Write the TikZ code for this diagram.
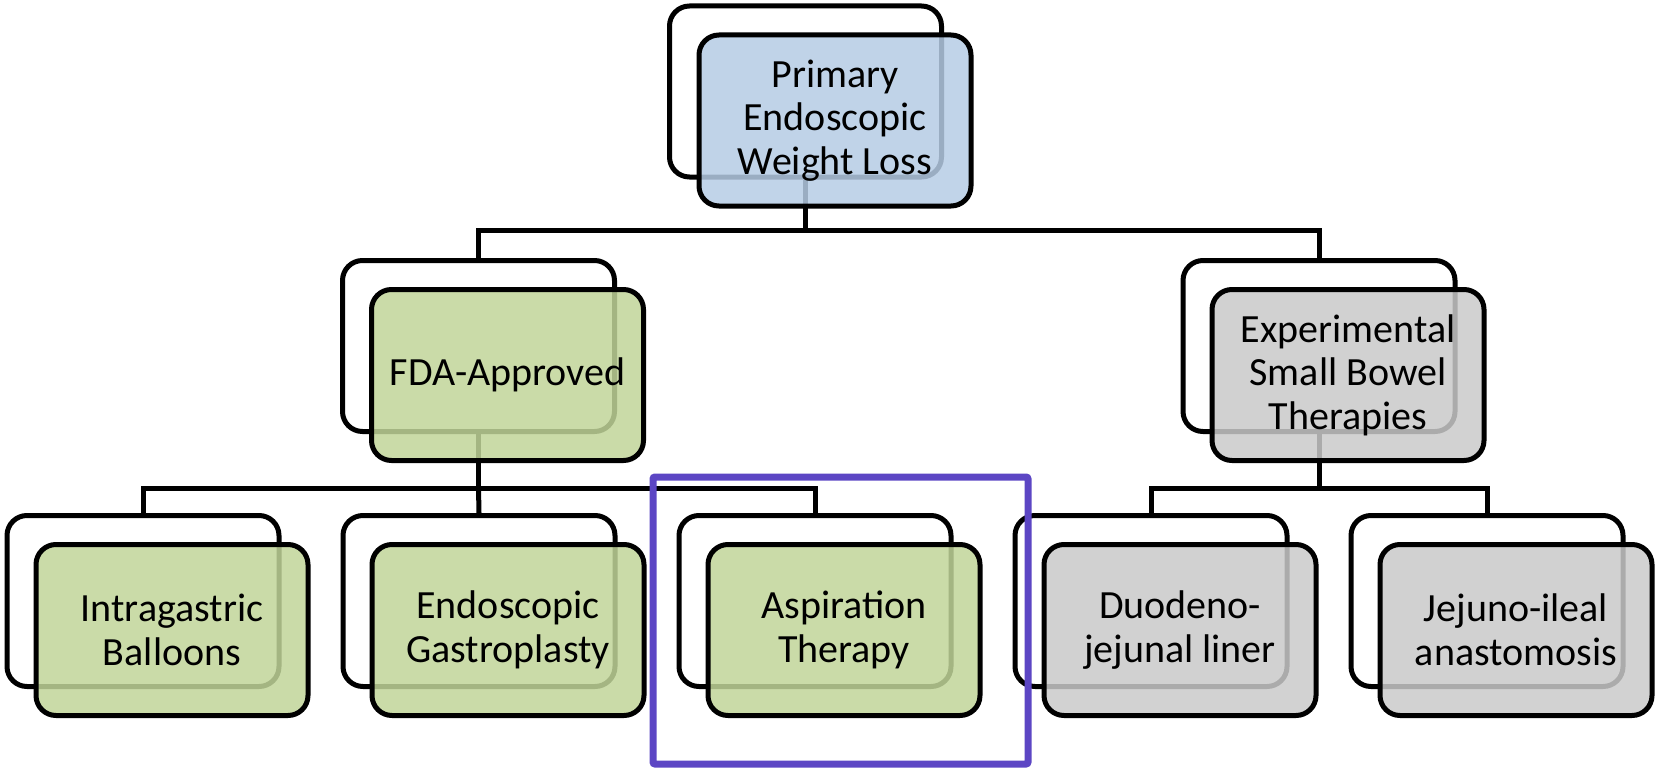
\documentclass[tikz,border=0pt]{standalone}
\usepackage{fontspec}
\setmainfont{Carlito}
\definecolor{bluefill}{RGB}{182,204,229}
\definecolor{greenfill}{RGB}{193,213,153}
\definecolor{grayfill}{RGB}{202,202,202}
\definecolor{hilite}{RGB}{92,70,196}
\begin{document}
\begin{tikzpicture}[x=1pt,y=-1pt,
  line width=5pt,
  backbox/.style={draw=black, fill=white, rounded corners=20pt, minimum width=272pt, minimum height=171pt, inner sep=0pt},
  frontbox/.style={draw=black, fill=#1, fill opacity=0.85, text opacity=1, rounded corners=20pt, minimum width=272pt, minimum height=171pt, inner sep=0pt, align=center, font=\fontsize{40}{43.5}\selectfont},
  conn/.style={draw=black, line width=5pt}
]
\useasboundingbox (0,0) rectangle (1655,768);

% back boxes
\node[backbox] (b1) at (805.5,91.5) {};
\node[backbox] (bfda) at (478.5,346) {};
\node[backbox] (bexp) at (1319,346) {};
\node[backbox] (bib) at (143,601) {};
\node[backbox] (beg) at (479,601) {};
\node[backbox] (bat) at (815,601) {};
\node[backbox] (bdj) at (1151,601) {};
\node[backbox] (bji) at (1487,601) {};

% connectors
\coordinate (j1) at (805.5,230);
\coordinate (j2) at (478.5,488);
\coordinate (j3) at (1319,488);
\draw[conn] (b1.south) -- (j1) -| (bfda.north);
\draw[conn] (j1) -| (bexp.north);
\draw[conn] (bfda.south) -- (j2) -| (bib.north);
\draw[conn] (j2) -- (beg.north);
\draw[conn] (j2) -| (bat.north);
\draw[conn] (bexp.south) -- (j3) -| (bdj.north);
\draw[conn] (j3) -| (bji.north);

% front boxes
\node[frontbox=bluefill] (f1) at (835,120.5) {Primary\\Endoscopic\\Weight Loss};
\node[frontbox=greenfill] (ffda) at (507.5,375) {FDA-Approved};
\node[frontbox=grayfill] (fexp) at (1348,375) {Experimental\\Small Bowel\\Therapies};
\node[frontbox=greenfill] (fib) at (172,630) {Intragastric\\Balloons};
\node[frontbox=greenfill] (feg) at (508,630) {Endoscopic\\Gastroplasty};
\node[frontbox=greenfill] (fat) at (844,630) {Aspiration\\Therapy};
\node[frontbox=grayfill] (fdj) at (1180,630) {Duodeno-\\jejunal liner};
\node[frontbox=grayfill] (fji) at (1516,630) {Jejuno-ileal\\anastomosis};

% highlight
\draw[hilite, line width=7pt, rounded corners=2pt] (653,477) rectangle (1028,764);
\end{tikzpicture}
\end{document}
